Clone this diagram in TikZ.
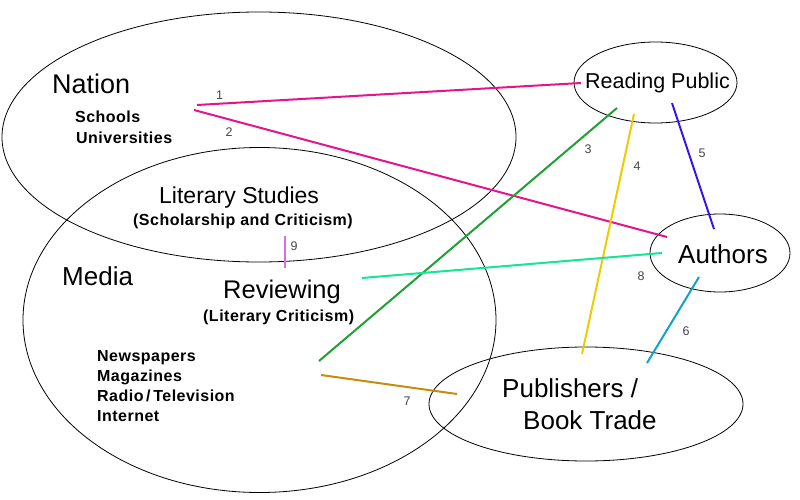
\documentclass[tikz,border=0pt]{standalone}
\usepackage{fontspec}
\setmainfont{Liberation Sans}
\newfontfamily\widebold[LetterSpace=3]{Liberation Sans Bold}
\usetikzlibrary{shapes.geometric}
\definecolor{cmag}{RGB}{228,20,140}
\definecolor{cgreen}{RGB}{30,160,50}
\definecolor{cyellow}{RGB}{235,205,0}
\definecolor{cblue}{RGB}{60,20,230}
\definecolor{ccyan}{RGB}{20,160,205}
\definecolor{cbrown}{RGB}{200,140,10}
\definecolor{cspring}{RGB}{20,230,150}
\definecolor{cviolet}{RGB}{215,110,230}
\definecolor{clabel}{RGB}{70,70,70}
\tikzset{
  region/.style={draw=black, line width=0.8pt, ellipse, inner sep=0pt},
  txt/.style={anchor=base west, inner sep=0pt, text=black},
  big/.style={txt, font=\fontsize{26}{30}\selectfont},
  mid/.style={txt, font=\fontsize{23}{27}\selectfont},
  small/.style={txt, font=\widebold\fontsize{16}{20}\selectfont},
  numlbl/.style={inner sep=0pt, text=clabel, font=\fontsize{12.5}{14}\selectfont},
  link/.style={line width=2pt},
}
\begin{document}
\begin{tikzpicture}[x=1pt,y=-1pt]
\useasboundingbox (0,0) rectangle (800,500);
% regions
\node[region, minimum width=514pt, minimum height=250pt] (nation) at (259,137) {};
\node[region, minimum width=473pt, minimum height=345pt] (media) at (259.5,320) {};
\node[region, minimum width=163pt, minimum height=81pt] (reading) at (655.5,82.5) {};
\node[region, minimum width=140pt, minimum height=78pt] (authors) at (720,253) {};
\node[region, minimum width=314pt, minimum height=114pt] (publishers) at (586,404) {};
% texts
\node[big, font=\fontsize{27}{30}\selectfont] (tnation) at (52,94) {Nation};
\node[small] (tschools) at (75,123) {Schools};
\node[small] (tuniv) at (76,143) {Universities};
\node[mid] (tlit) at (159,203) {Literary Studies};
\node[small] (tscholar) at (133,225) {(Scholarship and Criticism)};
\node[big] (tmedia) at (62,285) {Media};
\node[big, font=\fontsize{25.5}{30}\selectfont] (treview) at (223,298) {Reviewing};
\node[small] (tlitcrit) at (203,321) {(Literary Criticism)};
\node[small] (tnews) at (97,361) {Newspapers};
\node[small] (tmag) at (97,381) {Magazines};
\node[small] (tradio) at (97,401) {Radio\,/\,Television};
\node[small] (tnet) at (97,421) {Internet};
\node[mid, font=\fontsize{21.5}{25}\selectfont] (treading) at (585,89) {Reading Public};
\node[big] (tauthors) at (678,263) {Authors};
\node[big] (tpub) at (502,397) {Publishers /};
\node[big] (tbook) at (523,429) {Book Trade};
% connector end points
\coordinate (a1) at (197,105); \coordinate (b1) at (581,83);
\coordinate (a2) at (194,110); \coordinate (b2) at (667,237);
\coordinate (a3) at (319,361); \coordinate (b3) at (617,108);
\coordinate (a4) at (582,354); \coordinate (b4) at (634,114);
\coordinate (a5) at (672,103); \coordinate (b5) at (714,229);
\coordinate (a6) at (647,363); \coordinate (b6) at (699,277);
\coordinate (a7) at (321,375); \coordinate (b7) at (457,394);
\coordinate (a8) at (362,278); \coordinate (b8) at (662,253);
\coordinate (a9) at (285,236); \coordinate (b9) at (285,268);
% connectors
\draw[link, cmag] (a1) -- (b1);
\draw[link, cmag] (a2) -- (b2);
\draw[link, cgreen] (a3) -- (b3);
\draw[link, cyellow] (a4) -- (b4);
\draw[link, cblue] (a5) -- (b5);
\draw[link, ccyan] (a6) -- (b6);
\draw[link, cbrown] (a7) -- (b7);
\draw[link, cspring] (a8) -- (b8);
\draw[link, cviolet] (a9) -- (b9);
% labels
\node[numlbl] (l1) at (219.5,95.5) {1};
\node[numlbl] (l2) at (229,132.5) {2};
\node[numlbl] (l3) at (588,149) {3};
\node[numlbl] (l4) at (637,166) {4};
\node[numlbl] (l5) at (702,153) {5};
\node[numlbl] (l6) at (686,331) {6};
\node[numlbl] (l7) at (407,401) {7};
\node[numlbl] (l8) at (641,276) {8};
\node[numlbl] (l9) at (294,246) {9};
\end{tikzpicture}
\end{document}
